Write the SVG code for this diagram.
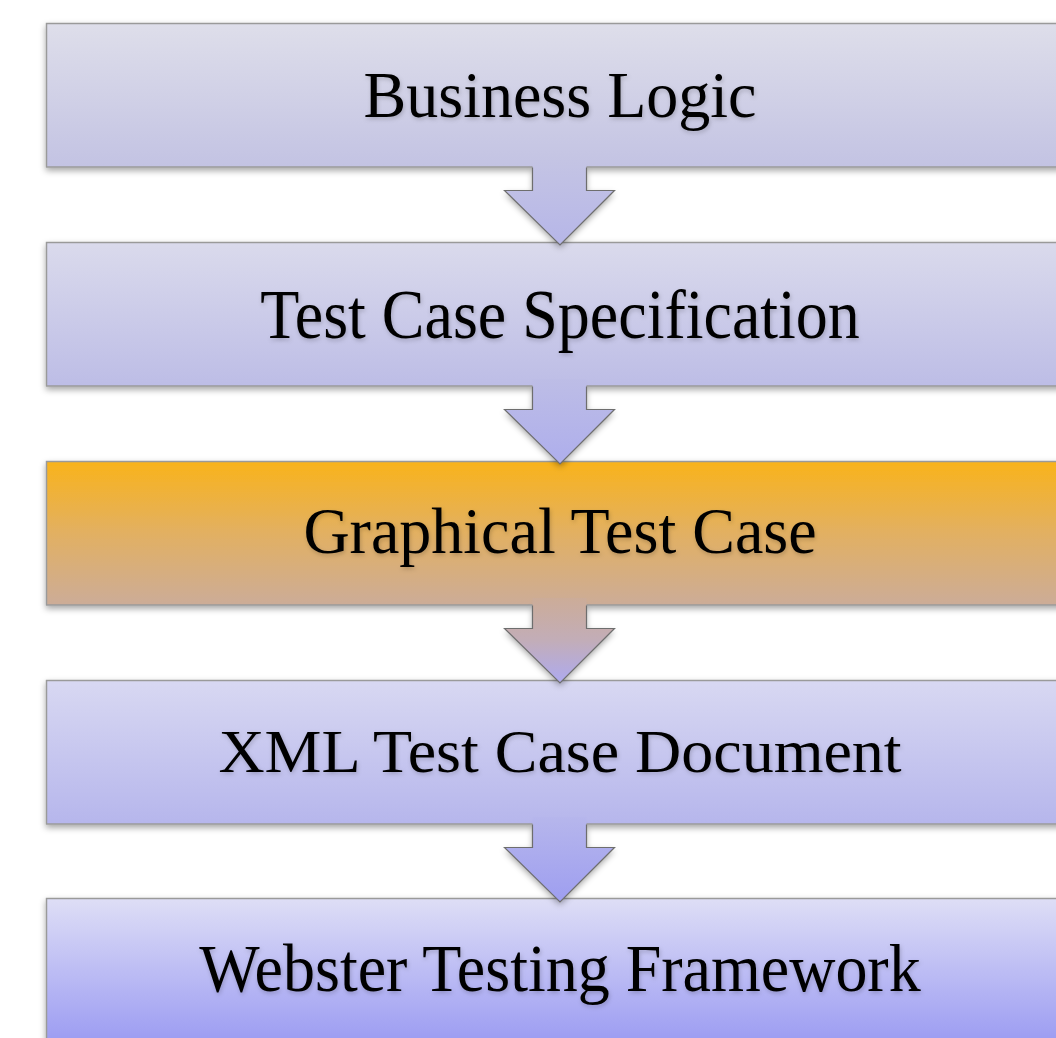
<svg xmlns="http://www.w3.org/2000/svg" width="1056" height="1038" viewBox="0 0 1056 1038">
  <defs>
    <linearGradient id="g1" x1="0" y1="0" x2="0" y2="1">
      <stop offset="0" stop-color="#dedeea"/>
      <stop offset="1" stop-color="#c3c3e3"/>
    </linearGradient>
    <linearGradient id="g2" x1="0" y1="0" x2="0" y2="1">
      <stop offset="0" stop-color="#dadaec"/>
      <stop offset="1" stop-color="#bdbde6"/>
    </linearGradient>
    <linearGradient id="g3" x1="0" y1="0" x2="0" y2="1">
      <stop offset="0" stop-color="#f9b31b"/>
      <stop offset="0.5" stop-color="#e2b062"/>
      <stop offset="1" stop-color="#ccac98"/>
    </linearGradient>
    <linearGradient id="g4" x1="0" y1="0" x2="0" y2="1">
      <stop offset="0" stop-color="#d8d8f2"/>
      <stop offset="1" stop-color="#b6b6ec"/>
    </linearGradient>
    <linearGradient id="g5" x1="0" y1="0" x2="0" y2="1">
      <stop offset="0" stop-color="#dedef6"/>
      <stop offset="1" stop-color="#9c9cf2"/>
    </linearGradient>
    <linearGradient id="a1" x1="0" y1="0" x2="0" y2="1">
      <stop offset="0" stop-color="#c4c4e4"/>
      <stop offset="1" stop-color="#b6b6e8"/>
    </linearGradient>
    <linearGradient id="a2" x1="0" y1="0" x2="0" y2="1">
      <stop offset="0" stop-color="#bdbde6"/>
      <stop offset="1" stop-color="#aeaeec"/>
    </linearGradient>
    <linearGradient id="a3" x1="0" y1="0" x2="0" y2="1">
      <stop offset="0" stop-color="#ccac98"/>
      <stop offset="0.5" stop-color="#c2adb8"/>
      <stop offset="1" stop-color="#aeaaf0"/>
    </linearGradient>
    <linearGradient id="a4" x1="0" y1="0" x2="0" y2="1">
      <stop offset="0" stop-color="#b6b6ec"/>
      <stop offset="1" stop-color="#9e9ef0"/>
    </linearGradient>
    <filter id="sh" x="-5%" y="-10%" width="110%" height="130%">
      <feDropShadow dx="0" dy="3" stdDeviation="3" flood-color="#000" flood-opacity="0.35"/>
    </filter>
    <filter id="tsh" x="-5%" y="-20%" width="110%" height="150%">
      <feDropShadow dx="1" dy="2" stdDeviation="2" flood-color="#000" flood-opacity="0.2"/>
    </filter>
  </defs>
  <style>
    .box { stroke: #9a9a9a; stroke-width: 1.5; filter: url(#sh); }
    .ashadow { stroke: none; filter: url(#sh); }
    .afill { stroke: none; }
    .aline { fill: none; stroke: #6e6e6e; stroke-width: 1.2; stroke-linejoin: miter; }
    .label { font-family: "Liberation Serif", "Times New Roman", serif; font-size: 64px; fill: #000; text-anchor: middle; filter: url(#tsh); }
  </style>
  <rect width="1056" height="1038" fill="#ffffff"/>

  <g id="node-business-logic">
    <rect class="box" x="46.5" y="23.5" width="1030" height="143.5" fill="url(#g1)"/>
    <text class="label" transform="translate(560,117) scale(1,1.04)">Business Logic</text>
  </g>
  <g id="node-test-case-specification">
    <rect class="box" x="46.5" y="242.5" width="1030" height="143.5" fill="url(#g2)"/>
    <text class="label" transform="translate(560,338) scale(1,1.1)">Test Case Specification</text>
  </g>
  <g id="node-graphical-test-case">
    <rect class="box" x="46.5" y="461.5" width="1030" height="143.5" fill="url(#g3)"/>
    <text class="label" transform="translate(560,553) scale(1,1.03)">Graphical Test Case</text>
  </g>
  <g id="node-xml-test-case-document">
    <rect class="box" x="46.5" y="680.5" width="1030" height="143.5" fill="url(#g4)"/>
    <text class="label" transform="translate(560,772) scale(1,0.95)">XML Test Case Document</text>
  </g>
  <g id="node-webster-testing-framework">
    <rect class="box" x="46.5" y="898.5" width="1030" height="143.5" fill="url(#g5)"/>
    <text class="label" transform="translate(560,991) scale(1,1.06)">Webster Testing Framework</text>
  </g>

  <g id="connectors">
    <g>
      <path class="ashadow" fill="url(#a1)" d="M532.5,168 V190.5 H504.5 L560,245 L614.5,190.5 H586.5 V168 Z"/>
      <path class="afill" fill="url(#a1)" d="M532.5,160 V190.5 H504.5 L560,245 L614.5,190.5 H586.5 V160 Z"/>
      <path class="aline" d="M532.5,167.5 V190.5 H504.5 L560,245 L614.5,190.5 H586.5 V167.5"/>
    </g>
    <g>
      <path class="ashadow" fill="url(#a2)" d="M532.5,387 V409.5 H504.5 L560,464 L614.5,409.5 H586.5 V387 Z"/>
      <path class="afill" fill="url(#a2)" d="M532.5,379 V409.5 H504.5 L560,464 L614.5,409.5 H586.5 V379 Z"/>
      <path class="aline" d="M532.5,386.5 V409.5 H504.5 L560,464 L614.5,409.5 H586.5 V386.5"/>
    </g>
    <g>
      <path class="ashadow" fill="url(#a3)" d="M532.5,606 V628.5 H504.5 L560,683 L614.5,628.5 H586.5 V606 Z"/>
      <path class="afill" fill="url(#a3)" d="M532.5,598 V628.5 H504.5 L560,683 L614.5,628.5 H586.5 V598 Z"/>
      <path class="aline" d="M532.5,605.5 V628.5 H504.5 L560,683 L614.5,628.5 H586.5 V605.5"/>
    </g>
    <g>
      <path class="ashadow" fill="url(#a4)" d="M532.5,825 V847.5 H504.5 L560,902 L614.5,847.5 H586.5 V825 Z"/>
      <path class="afill" fill="url(#a4)" d="M532.5,817 V847.5 H504.5 L560,902 L614.5,847.5 H586.5 V817 Z"/>
      <path class="aline" d="M532.5,824.5 V847.5 H504.5 L560,902 L614.5,847.5 H586.5 V824.5"/>
    </g>
  </g>
</svg>
